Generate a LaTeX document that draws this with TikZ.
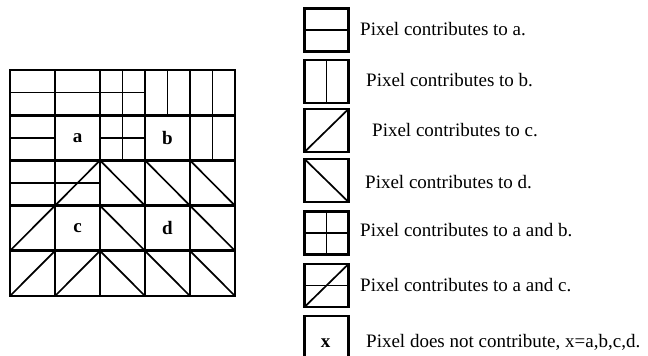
\documentclass[tikz,border=0pt]{standalone}
\usepackage{fontspec}
\setmainfont{Liberation Serif}
\begin{document}
\begin{tikzpicture}[x=1pt,y=-1pt,
  cellline/.style={line width=2.8pt,line cap=rect},
  inner/.style={line width=1.5pt},
  diag/.style={line width=1.7pt},
  lbl/.style={font=\fontsize{19}{22}\selectfont\bfseries,inner sep=0pt},
  legbox/.style={draw,line width=2.8pt,minimum width=44pt,minimum height=43pt,inner sep=0pt,outer sep=0pt},
  legtext/.style={font=\fontsize{19}{22}\selectfont,anchor=west,inner sep=0pt,text height=12.4pt,text depth=0pt}]
\useasboundingbox (0,0) rectangle (648,356);
% ---------- grid ----------
\begin{scope}[shift={(10,70)},x=45pt,y=-45.2pt]
  % horizontal middle lines
  \foreach \c/\r in {0/0,1/0,2/0,0/1,2/1,0/2,1/2}
    \draw[inner] (\c,\r+0.5) -- (\c+1,\r+0.5);
  % vertical middle lines
  \foreach \c/\r in {2/0,3/0,4/0,2/1,4/1}
    \draw[inner] (\c+0.5,\r) -- (\c+0.5,\r+1);
  % slash diagonals
  \foreach \c/\r in {1/2,0/3,0/4,1/4}
    \draw[diag] (\c,\r+1) -- (\c+1,\r);
  % backslash diagonals
  \foreach \c/\r in {2/2,3/2,4/2,2/3,4/3,2/4,3/4,4/4}
    \draw[diag] (\c,\r) -- (\c+1,\r+1);
  % cell lines
  \foreach \i in {0,...,5} {
    \draw[cellline] (\i,0) -- (\i,5);
    \draw[cellline] (0,\i) -- (5,\i);
  }
  \node[lbl] (la) at (1.5,1.5) {a};
  \node[lbl] (lb) at (3.5,1.5) {b};
  \node[lbl] (lc) at (1.5,3.5) {c};
  \node[lbl] (ld) at (3.5,3.5) {d};
\end{scope}
% ---------- legend ----------
\node[legbox] (k1) at (326.5,30) {};
\node[legbox] (k2) at (326.5,81.5) {};
\node[legbox] (k3) at (326.5,130.5) {};
\node[legbox] (k4) at (326.5,180.5) {};
\node[legbox] (k5) at (326.5,233) {};
\node[legbox] (k6) at (326.5,285.5) {};
\node[legbox,font=\fontsize{19}{22}\selectfont\bfseries] (k7) at (326.5,337.5) {};
\node[lbl] (kx) at (325.5,343) {x};
\draw[inner] (k1.west) -- (k1.east);
\draw[inner] (k2.north) -- (k2.south);
\draw[diag] (k3.south west) -- (k3.north east);
\draw[diag] (k4.north west) -- (k4.south east);
\draw[inner] (k5.west) -- (k5.east);
\draw[inner] (k5.north) -- (k5.south);
\draw[inner] (k6.west) -- (k6.east);
\draw[diag] (k6.south west) -- (k6.north east);
\node[legtext] (t1) at (360,29) {Pixel contributes to a.};
\node[legtext] (t2) at (366,80) {Pixel contributes to b.};
\node[legtext] (t3) at (372,130) {Pixel contributes to c.};
\node[legtext] (t4) at (365,182) {Pixel contributes to d.};
\node[legtext] (t5) at (360,230) {Pixel contributes to a and b.};
\node[legtext] (t6) at (360,285) {Pixel contributes to a and c.};
\node[legtext] (t7) at (366,341) {Pixel does not contribute, x=a,b,c,d.};
\end{tikzpicture}
\end{document}
